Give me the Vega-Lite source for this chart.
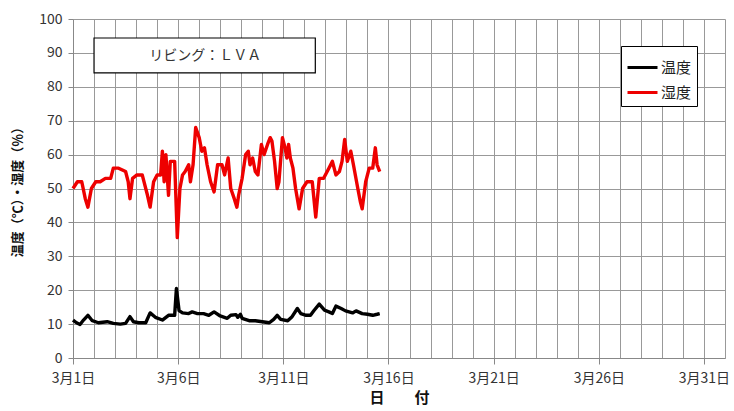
{
  "$schema": "https://vega.github.io/schema/vega-lite/v6.json",
  "width": 652,
  "height": 339,
  "autosize": {"type": "none"},
  "padding": {"left": 73, "top": 19, "right": 9, "bottom": 53},
  "background": "white",
  "config": {
    "view": {"stroke": null},
    "font": "Noto Sans CJK JP",
    "axis": {"labelFont": "Noto Sans CJK JP", "titleFont": "Noto Sans CJK JP"},
    "legend": {
      "orient": "none", "legendX": 548, "legendY": 27, "title": null,
      "strokeColor": "black", "fillColor": "white", "padding": 5,
      "symbolType": "stroke", "symbolStrokeWidth": 3, "symbolSize": 900,
      "labelFontSize": 15, "labelFont": "Noto Sans CJK JP", "labelColor": "#222",
      "rowPadding": 0, "labelOffset": 2
    }
  },
  "datasets": {
    "box": [{"t": "2013-03-02T00:00", "t2": "2013-03-12T12:30", "v": 84.1, "v2": 94.4}],
    "lbl": [{"t": "2013-03-07T07:00", "v": 89.2, "label": "リビング：ＬＶＡ"}]
  },
  "data": {"values": [
    {"t":"2013-03-01T00:00","v":50,"s":"湿度"},
    {"t":"2013-03-01T05:00","v":52,"s":"湿度"},
    {"t":"2013-03-01T10:00","v":52,"s":"湿度"},
    {"t":"2013-03-01T14:00","v":47,"s":"湿度"},
    {"t":"2013-03-01T17:00","v":44.5,"s":"湿度"},
    {"t":"2013-03-01T21:00","v":50,"s":"湿度"},
    {"t":"2013-03-02T02:00","v":52,"s":"湿度"},
    {"t":"2013-03-02T07:00","v":52,"s":"湿度"},
    {"t":"2013-03-02T13:00","v":53,"s":"湿度"},
    {"t":"2013-03-02T19:00","v":53,"s":"湿度"},
    {"t":"2013-03-02T22:00","v":56,"s":"湿度"},
    {"t":"2013-03-03T04:00","v":56,"s":"湿度"},
    {"t":"2013-03-03T12:00","v":55,"s":"湿度"},
    {"t":"2013-03-03T15:00","v":52,"s":"湿度"},
    {"t":"2013-03-03T17:00","v":47,"s":"湿度"},
    {"t":"2013-03-03T20:00","v":53,"s":"湿度"},
    {"t":"2013-03-04T01:00","v":54,"s":"湿度"},
    {"t":"2013-03-04T07:00","v":54,"s":"湿度"},
    {"t":"2013-03-04T13:00","v":48,"s":"湿度"},
    {"t":"2013-03-04T16:00","v":44.5,"s":"湿度"},
    {"t":"2013-03-04T20:00","v":52,"s":"湿度"},
    {"t":"2013-03-05T00:00","v":54,"s":"湿度"},
    {"t":"2013-03-05T04:00","v":54,"s":"湿度"},
    {"t":"2013-03-05T06:00","v":61,"s":"湿度"},
    {"t":"2013-03-05T08:00","v":52,"s":"湿度"},
    {"t":"2013-03-05T10:00","v":60,"s":"湿度"},
    {"t":"2013-03-05T13:00","v":48,"s":"湿度"},
    {"t":"2013-03-05T15:00","v":58,"s":"湿度"},
    {"t":"2013-03-05T20:00","v":58,"s":"湿度"},
    {"t":"2013-03-05T23:00","v":35.5,"s":"湿度"},
    {"t":"2013-03-06T02:00","v":50,"s":"湿度"},
    {"t":"2013-03-06T05:00","v":54,"s":"湿度"},
    {"t":"2013-03-06T08:00","v":55,"s":"湿度"},
    {"t":"2013-03-06T12:00","v":57,"s":"湿度"},
    {"t":"2013-03-06T14:00","v":52,"s":"湿度"},
    {"t":"2013-03-06T17:00","v":57,"s":"湿度"},
    {"t":"2013-03-06T20:00","v":68,"s":"湿度"},
    {"t":"2013-03-07T00:00","v":65,"s":"湿度"},
    {"t":"2013-03-07T03:00","v":61,"s":"湿度"},
    {"t":"2013-03-07T06:00","v":62,"s":"湿度"},
    {"t":"2013-03-07T09:00","v":57,"s":"湿度"},
    {"t":"2013-03-07T13:00","v":52,"s":"湿度"},
    {"t":"2013-03-07T17:00","v":49,"s":"湿度"},
    {"t":"2013-03-07T21:00","v":57,"s":"湿度"},
    {"t":"2013-03-08T02:00","v":57,"s":"湿度"},
    {"t":"2013-03-08T05:00","v":54,"s":"湿度"},
    {"t":"2013-03-08T09:00","v":59,"s":"湿度"},
    {"t":"2013-03-08T12:00","v":50,"s":"湿度"},
    {"t":"2013-03-08T16:00","v":47,"s":"湿度"},
    {"t":"2013-03-08T19:00","v":44.5,"s":"湿度"},
    {"t":"2013-03-08T21:00","v":48,"s":"湿度"},
    {"t":"2013-03-09T01:00","v":53,"s":"湿度"},
    {"t":"2013-03-09T05:00","v":60,"s":"湿度"},
    {"t":"2013-03-09T08:00","v":61,"s":"湿度"},
    {"t":"2013-03-09T10:00","v":57,"s":"湿度"},
    {"t":"2013-03-09T13:00","v":59,"s":"湿度"},
    {"t":"2013-03-09T16:00","v":55,"s":"湿度"},
    {"t":"2013-03-09T19:00","v":54,"s":"湿度"},
    {"t":"2013-03-09T23:00","v":63,"s":"湿度"},
    {"t":"2013-03-10T02:00","v":60,"s":"湿度"},
    {"t":"2013-03-10T06:00","v":63,"s":"湿度"},
    {"t":"2013-03-10T09:00","v":65,"s":"湿度"},
    {"t":"2013-03-10T11:00","v":64,"s":"湿度"},
    {"t":"2013-03-10T14:00","v":58,"s":"湿度"},
    {"t":"2013-03-10T17:00","v":50,"s":"湿度"},
    {"t":"2013-03-10T19:00","v":52,"s":"湿度"},
    {"t":"2013-03-10T23:00","v":65,"s":"湿度"},
    {"t":"2013-03-11T02:00","v":62,"s":"湿度"},
    {"t":"2013-03-11T04:00","v":59,"s":"湿度"},
    {"t":"2013-03-11T06:00","v":63,"s":"湿度"},
    {"t":"2013-03-11T08:00","v":59,"s":"湿度"},
    {"t":"2013-03-11T11:00","v":56,"s":"湿度"},
    {"t":"2013-03-11T14:00","v":50,"s":"湿度"},
    {"t":"2013-03-11T18:00","v":44,"s":"湿度"},
    {"t":"2013-03-11T22:00","v":50,"s":"湿度"},
    {"t":"2013-03-12T03:00","v":52,"s":"湿度"},
    {"t":"2013-03-12T09:00","v":52,"s":"湿度"},
    {"t":"2013-03-12T13:00","v":41.6,"s":"湿度"},
    {"t":"2013-03-12T17:00","v":53,"s":"湿度"},
    {"t":"2013-03-12T22:00","v":53,"s":"湿度"},
    {"t":"2013-03-13T04:00","v":56,"s":"湿度"},
    {"t":"2013-03-13T08:00","v":58,"s":"湿度"},
    {"t":"2013-03-13T12:00","v":54,"s":"湿度"},
    {"t":"2013-03-13T16:00","v":55,"s":"湿度"},
    {"t":"2013-03-13T19:00","v":58,"s":"湿度"},
    {"t":"2013-03-13T22:00","v":64.5,"s":"湿度"},
    {"t":"2013-03-14T01:00","v":58,"s":"湿度"},
    {"t":"2013-03-14T05:00","v":61,"s":"湿度"},
    {"t":"2013-03-14T08:00","v":57,"s":"湿度"},
    {"t":"2013-03-14T13:00","v":50,"s":"湿度"},
    {"t":"2013-03-14T16:00","v":46,"s":"湿度"},
    {"t":"2013-03-14T18:00","v":44,"s":"湿度"},
    {"t":"2013-03-14T22:00","v":52,"s":"湿度"},
    {"t":"2013-03-15T02:00","v":56,"s":"湿度"},
    {"t":"2013-03-15T06:00","v":56,"s":"湿度"},
    {"t":"2013-03-15T09:00","v":62,"s":"湿度"},
    {"t":"2013-03-15T11:00","v":57,"s":"湿度"},
    {"t":"2013-03-15T14:00","v":55,"s":"湿度"},
    {"t":"2013-03-01T00:00","v":11.2,"s":"温度"},
    {"t":"2013-03-01T04:00","v":10.4,"s":"温度"},
    {"t":"2013-03-01T08:00","v":9.9,"s":"温度"},
    {"t":"2013-03-01T12:00","v":11.2,"s":"温度"},
    {"t":"2013-03-01T17:00","v":12.6,"s":"温度"},
    {"t":"2013-03-01T22:00","v":11,"s":"温度"},
    {"t":"2013-03-02T05:00","v":10.4,"s":"温度"},
    {"t":"2013-03-02T15:00","v":10.7,"s":"温度"},
    {"t":"2013-03-02T22:00","v":10.2,"s":"温度"},
    {"t":"2013-03-03T06:00","v":10,"s":"温度"},
    {"t":"2013-03-03T12:00","v":10.2,"s":"温度"},
    {"t":"2013-03-03T17:00","v":12.2,"s":"温度"},
    {"t":"2013-03-03T21:00","v":10.7,"s":"温度"},
    {"t":"2013-03-04T03:00","v":10.4,"s":"温度"},
    {"t":"2013-03-04T11:00","v":10.4,"s":"温度"},
    {"t":"2013-03-04T16:00","v":13.3,"s":"温度"},
    {"t":"2013-03-04T22:00","v":12,"s":"温度"},
    {"t":"2013-03-05T06:00","v":11.2,"s":"温度"},
    {"t":"2013-03-05T13:00","v":12.6,"s":"温度"},
    {"t":"2013-03-05T20:00","v":12.6,"s":"温度"},
    {"t":"2013-03-05T22:00","v":20.5,"s":"温度"},
    {"t":"2013-03-06T01:00","v":14,"s":"温度"},
    {"t":"2013-03-06T05:00","v":13.3,"s":"温度"},
    {"t":"2013-03-06T12:00","v":13.1,"s":"温度"},
    {"t":"2013-03-06T16:00","v":13.6,"s":"温度"},
    {"t":"2013-03-06T22:00","v":13.1,"s":"温度"},
    {"t":"2013-03-07T05:00","v":13.1,"s":"温度"},
    {"t":"2013-03-07T11:00","v":12.6,"s":"温度"},
    {"t":"2013-03-07T17:00","v":13.6,"s":"温度"},
    {"t":"2013-03-08T00:00","v":12.4,"s":"温度"},
    {"t":"2013-03-08T08:00","v":11.7,"s":"温度"},
    {"t":"2013-03-08T12:00","v":12.6,"s":"温度"},
    {"t":"2013-03-08T18:00","v":12.8,"s":"温度"},
    {"t":"2013-03-08T20:00","v":12,"s":"温度"},
    {"t":"2013-03-08T23:00","v":12.9,"s":"温度"},
    {"t":"2013-03-09T01:00","v":11.7,"s":"温度"},
    {"t":"2013-03-09T09:00","v":11,"s":"温度"},
    {"t":"2013-03-09T16:00","v":11,"s":"温度"},
    {"t":"2013-03-10T00:00","v":10.7,"s":"温度"},
    {"t":"2013-03-10T08:00","v":10.4,"s":"温度"},
    {"t":"2013-03-10T13:00","v":11.4,"s":"温度"},
    {"t":"2013-03-10T17:00","v":12.6,"s":"温度"},
    {"t":"2013-03-10T21:00","v":11.4,"s":"温度"},
    {"t":"2013-03-11T05:00","v":11,"s":"温度"},
    {"t":"2013-03-11T10:00","v":12.2,"s":"温度"},
    {"t":"2013-03-11T16:00","v":14.6,"s":"温度"},
    {"t":"2013-03-11T20:00","v":13.1,"s":"温度"},
    {"t":"2013-03-12T02:00","v":12.6,"s":"温度"},
    {"t":"2013-03-12T07:00","v":12.6,"s":"温度"},
    {"t":"2013-03-12T11:00","v":14,"s":"温度"},
    {"t":"2013-03-12T17:00","v":15.9,"s":"温度"},
    {"t":"2013-03-12T23:00","v":14.1,"s":"温度"},
    {"t":"2013-03-13T04:00","v":13.6,"s":"温度"},
    {"t":"2013-03-13T08:00","v":13.1,"s":"温度"},
    {"t":"2013-03-13T12:00","v":15.3,"s":"温度"},
    {"t":"2013-03-13T18:00","v":14.6,"s":"温度"},
    {"t":"2013-03-13T23:00","v":13.9,"s":"温度"},
    {"t":"2013-03-14T07:00","v":13.3,"s":"温度"},
    {"t":"2013-03-14T11:00","v":13.9,"s":"温度"},
    {"t":"2013-03-14T18:00","v":13.1,"s":"温度"},
    {"t":"2013-03-15T00:00","v":12.9,"s":"温度"},
    {"t":"2013-03-15T06:00","v":12.6,"s":"温度"},
    {"t":"2013-03-15T11:00","v":12.9,"s":"温度"},
    {"t":"2013-03-15T14:00","v":13.1,"s":"温度"}
  ]},
  "encoding": {
    "x": {
      "field": "t", "type": "temporal",
      "scale": {"domain": [{"year": 2013, "month": 3, "date": 1}, {"year": 2013, "month": 4, "date": 1}]},
      "axis": {
        "title": "日　　付", "titleFontSize": 15, "titleFontWeight": "bold", "titleColor": "#111", "titlePadding": 5,
        "tickCount": {"interval": "day", "step": 1},
        "labelExpr": "(month(datum.value) == 2 && (date(datum.value) - 1) % 5 == 0) ? timeFormat(datum.value, '%-m月%-d日') : ''",
        "labelFontSize": 14, "labelColor": "#333", "labelPadding": 7, "labelOverlap": false, "labelFlush": false,
        "tickSize": 6, "tickColor": "#888",
        "tickOpacity": {"condition": {"test": "month(datum.value) == 2 && (date(datum.value) - 1) % 5 == 0", "value": 1}, "value": 0},
        "grid": true, "gridColor": "#999", "gridOpacity": 1, "gridWidth": 1,
        "domainColor": "#888"
      }
    },
    "y": {
      "field": "v", "type": "quantitative",
      "scale": {"domain": [0, 100], "nice": false},
      "axis": {
        "title": "温度（℃）・湿度（％）", "titleFontSize": 13, "titleFontWeight": "bold", "titleColor": "#111", "titlePadding": 14,
        "values": [0, 10, 20, 30, 40, 50, 60, 70, 80, 90, 100],
        "labelOverlap": false,
        "labelFontSize": 14, "labelColor": "#333", "labelPadding": 6,
        "tickSize": 5, "tickColor": "#888",
        "grid": true, "gridColor": "#999", "gridOpacity": 1, "gridWidth": 1,
        "domainColor": "#888"
      }
    }
  },
  "layer": [
    {
      "mark": {"type": "line", "strokeWidth": 3.4, "strokeJoin": "round"},
      "encoding": {
        "color": {
          "field": "s", "type": "nominal",
          "scale": {"domain": ["温度", "湿度"], "range": ["#000000", "#ee0000"]},
          "sort": ["温度", "湿度"]
        },
        "order": {"field": "t", "type": "temporal"}
      }
    },
    {
      "data": {"name": "box"},
      "mark": {"type": "rect", "fill": "white", "stroke": "black", "strokeWidth": 1.2},
      "encoding": {
        "x2": {"field": "t2"},
        "y2": {"field": "v2"}
      }
    },
    {
      "data": {"name": "lbl"},
      "mark": {"type": "text", "fontSize": 14, "color": "#333", "align": "center", "baseline": "middle"},
      "encoding": {
        "text": {"field": "label"}
      }
    }
  ]
}
